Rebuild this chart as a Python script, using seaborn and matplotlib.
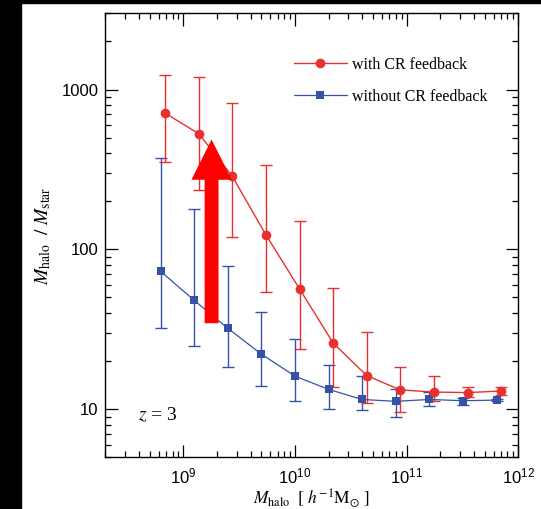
import matplotlib
matplotlib.use("Agg")
import matplotlib.pyplot as plt
import matplotlib.ticker as mticker
from matplotlib.patches import Rectangle
import numpy as np
import pandas as pd
import seaborn as sns

# ---- data ----
red_x = [6.9e8, 1.38e9, 2.75e9, 5.5e9, 1.1e10, 2.2e10, 4.4e10, 8.8e10, 1.76e11, 3.52e11, 7.04e11]
red_y = [711, 528, 286, 123, 56.5, 25.9, 16.2, 13.2, 12.8, 12.7, 13.0]
red_hi = [1241, 1206, 825, 338, 150, 57.5, 30.3, 18.4, 16.1, 13.8, 13.8]
red_lo = [351, 235, 119, 54.3, 23.8, 13.8, 11.0, 9.6, 11.3, 11.9, 12.3]

blue_x = [6.25e8, 1.25e9, 2.5e9, 5e9, 1e10, 2e10, 4e10, 8e10, 1.6e11, 3.2e11, 6.4e11]
blue_y = [72.9, 48, 32.1, 22.1, 16.1, 13.3, 11.5, 11.2, 11.5, 11.3, 11.4]
blue_hi = [374, 180, 78.3, 40.7, 27.6, 19.0, 16.2, 13.3, 12.8, 11.8, 11.6]
blue_lo = [32.2, 25.0, 18.4, 14.0, 11.2, 10.0, 9.86, 9.0, 10.5, 10.6, 11.2]

label_red = "with CR feedback"
label_blue = "without CR feedback"
arrow_x = 1.79e9
arrow_y0, arrow_y1 = 34.5, 487

RED = "#e8302e"
BLUE = "#3552a5"

sns.set_theme(style="ticks")
plt.rcParams["font.family"] = ["Liberation Sans", "DejaVu Sans"]
plt.rcParams["mathtext.fontset"] = "stix"

fig = plt.figure(figsize=(5.41, 5.09), dpi=100)
fig.patch.set_facecolor("white")
ax = fig.add_axes([105.3 / 541, 1 - 457.3 / 509, (518.3 - 105.3) / 541, (457.3 - 13.3) / 509])

# black frame strips (left and top)
fig.patches.append(Rectangle((0, 0), 21 / 541, 1, transform=fig.transFigure, color="black", zorder=0))
fig.patches.append(Rectangle((0, 1 - 3 / 509), 1, 3 / 509, transform=fig.transFigure, color="black", zorder=0))

df_red = pd.DataFrame({"x": red_x, "y": red_y})
df_blue = pd.DataFrame({"x": blue_x, "y": blue_y})

ax.errorbar(blue_x, blue_y,
            yerr=[np.array(blue_y) - np.array(blue_lo), np.array(blue_hi) - np.array(blue_y)],
            fmt="none", ecolor=BLUE, elinewidth=1.0, capsize=4, capthick=1.0, zorder=2)
ax.errorbar(red_x, red_y,
            yerr=[np.array(red_y) - np.array(red_lo), np.array(red_hi) - np.array(red_y)],
            fmt="none", ecolor=RED, elinewidth=1.0, capsize=4, capthick=1.0, zorder=2)

sns.lineplot(data=df_red, x="x", y="y", ax=ax, color=RED, marker="o", markersize=7,
             markeredgewidth=0, linewidth=1.0, label=label_red, zorder=4)
sns.lineplot(data=df_blue, x="x", y="y", ax=ax, color=BLUE, marker="s", markersize=6,
             markeredgewidth=0, linewidth=0.9, label=label_blue, zorder=3)

ax.set_xscale("log")
ax.set_yscale("log")
ax.set_xlim(2e8, 1e12)
ax.set_ylim(5, 3000)

# big red arrow
ax.annotate("", xy=(arrow_x, arrow_y1), xytext=(arrow_x, arrow_y0),
            arrowprops=dict(arrowstyle="simple,head_length=2.9,head_width=2.9,tail_width=1.0",
                            mutation_scale=10, color="#ff0000", shrinkA=0, shrinkB=0, lw=0),
            zorder=5)

ax.yaxis.set_major_locator(mticker.FixedLocator([10, 100, 1000]))
ax.yaxis.set_major_formatter(mticker.FuncFormatter(lambda v, p: f"{int(round(v))}"))
ax.yaxis.set_minor_locator(mticker.LogLocator(base=10, subs=np.arange(2, 10)))
ax.yaxis.set_minor_formatter(mticker.NullFormatter())
ax.xaxis.set_major_locator(mticker.LogLocator(base=10, numticks=10))
ax.xaxis.set_minor_locator(mticker.LogLocator(base=10, subs=np.arange(2, 10), numticks=20))
ax.xaxis.set_minor_formatter(mticker.NullFormatter())

ax.tick_params(which="both", direction="in", top=True, right=True, color="black", width=0.9)
ax.tick_params(which="major", length=9, labelsize=12, pad=5, labelcolor="black")
ax.tick_params(axis="x", which="major", pad=6.5)
ax.tick_params(which="minor", length=4.3)
for s in ax.spines.values():
    s.set_color("black")
    s.set_linewidth(1.0)
ax.grid(False)

ax.set_xlabel(r"$M_{\rm halo}\ \ [\ h^{-1}{\rm M}_{\odot}\ ]$", fontsize=12.5, color="black", labelpad=1)
ax.set_ylabel(r"$M_{\rm halo}\ \ /\ M_{\rm star}$", fontsize=14, color="black", labelpad=6)

ax.text(0.08, 0.095, r"$z$ = 3", transform=ax.transAxes, va="center", ha="left",
        fontsize=14, family=["Liberation Serif", "DejaVu Serif"], color="black")

leg = ax.legend(loc="upper left", bbox_to_anchor=(0.457, 0.902), frameon=False,
                prop={"family": ["Liberation Serif", "DejaVu Serif"], "size": 11.5},
                handlelength=3.3, handletextpad=0.3, labelspacing=1.0, borderpad=0,
                borderaxespad=0)
for t in leg.get_texts():
    t.set_color("black")

fig.savefig("out.png", dpi=100, facecolor="white")
